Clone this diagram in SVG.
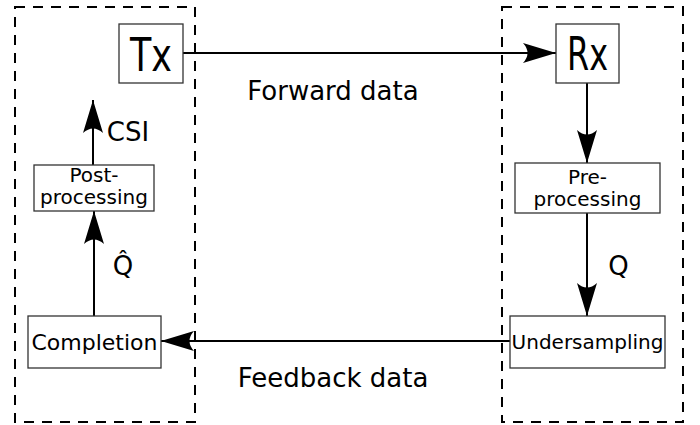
<svg xmlns="http://www.w3.org/2000/svg" width="700" height="425" viewBox="0 0 700 425">
  <style>
    .frame { fill: none; stroke: #000; stroke-width: 2; stroke-dasharray: 10 8; }
    .box { fill: #fff; stroke: #333; stroke-width: 1.3; }
    .wire { fill: none; stroke: #000; stroke-width: 2; marker-end: url(#head); }
    text { font-family: "DejaVu Sans", "Liberation Sans", sans-serif; fill: #000; text-anchor: middle; }
    .big { font-size: 46px; }
    .lbl { font-size: 20px; }
    .cap { font-size: 26px; }
  </style>
  <defs>
    <marker id="head" markerUnits="userSpaceOnUse" markerWidth="40" markerHeight="26" viewBox="-35 -13 37 26" refX="0" refY="0" orient="auto">
      <path d="M0,0 L-33,-10 Q-24,0 -33,10 Z" fill="#000"/>
    </marker>
  </defs>

  <!-- transmitter / receiver sides -->
  <rect class="frame" x="15" y="7" width="180" height="415"/>
  <rect class="frame" x="502" y="7" width="181" height="415"/>

  <!-- connectors -->
  <g id="connectors">
    <line class="wire" x1="183" y1="53" x2="556" y2="53"/>
    <line class="wire" x1="587" y1="83" x2="587" y2="163"/>
    <line class="wire" x1="587" y1="213" x2="587" y2="316"/>
    <line class="wire" x1="510" y1="341" x2="161" y2="341"/>
    <line class="wire" x1="94" y1="316" x2="94" y2="211"/>
    <line class="wire" x1="93" y1="165" x2="93" y2="100"/>
  </g>

  <g id="tx">
    <rect class="box" x="119" y="24" width="64" height="59"/>
    <text class="big" x="151" y="71" textLength="42" lengthAdjust="spacingAndGlyphs">Tx</text>
  </g>
  <g id="rx">
    <rect class="box" x="556" y="24" width="63" height="59"/>
    <text class="big" x="587.5" y="70" textLength="41" lengthAdjust="spacingAndGlyphs">Rx</text>
  </g>
  <g id="preprocessing">
    <rect class="box" x="515" y="163" width="145" height="50"/>
    <text class="lbl" x="587.5" y="184">Pre-</text>
    <text class="lbl" x="587.5" y="206">processing</text>
  </g>
  <g id="undersampling">
    <rect class="box" x="510" y="316" width="155" height="52"/>
    <text class="lbl" x="587.5" y="349">Undersampling</text>
  </g>
  <g id="completion">
    <rect class="box" x="28" y="316" width="133" height="52"/>
    <text x="94.5" y="350" style="font-size:22px">Completion</text>
  </g>
  <g id="postprocessing">
    <rect class="box" x="34" y="165" width="120" height="46"/>
    <text class="lbl" x="94" y="182">Post-</text>
    <text class="lbl" x="94" y="204">processing</text>
  </g>

  <!-- labels -->
  <text class="cap" x="333" y="100">Forward data</text>
  <text class="cap" x="333" y="387">Feedback data</text>
  <text class="cap" x="128" y="141">CSI</text>
  <text class="cap" x="123" y="275">Q̂</text>
  <text class="cap" x="618.5" y="275">Q</text>
</svg>
